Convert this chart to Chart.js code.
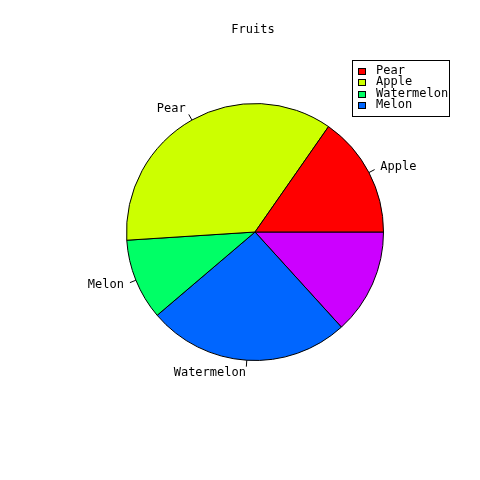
<!DOCTYPE html>
<html>
<head>
<meta charset="utf-8">
<script src="https://cdn.jsdelivr.net/npm/chart.js@4/dist/chart.umd.min.js"></script>
<style>
html,body{margin:0;padding:0;background:#fff;}
#wrap{width:480px;height:480px;}
</style>
</head>
<body>
<div id="wrap"><canvas id="c" width="480" height="480"></canvas></div>
<script>
// Slice values in R order (counter-clockwise from 3 o'clock)
const sliceValues = [15, 35, 10, 25, 13];
const sliceLabels = ["Apple", "Pear", "Melon", "Watermelon", ""];
const sliceColors = ["#FF0000", "#CCFF00", "#00FF66", "#0066FF", "#CC00FF"];
const legendLabels = ["Pear", "Apple", "Watermelon", "Melon"];
const legendColors = ["#FF0000", "#CCFF00", "#00FF66", "#0066FF"];
const chartTitle = "Fruits";

const FONT = '12px "DejaVu Sans Mono", "Liberation Mono", monospace';

// Chart.js draws clockwise; reverse so the visual order is counter-clockwise like R
const cjValues = sliceValues.slice().reverse();
const cjLabels = sliceLabels.slice().reverse();
const cjColors = sliceColors.slice().reverse();

const decor = {
  id: 'decor',
  afterDatasetsDraw(chart) {
    const ctx = chart.ctx;
    const meta = chart.getDatasetMeta(0);
    ctx.save();
    ctx.font = FONT;
    ctx.fillStyle = '#000';
    ctx.strokeStyle = '#000';
    ctx.lineWidth = 1;
    ctx.textBaseline = 'middle';
    meta.data.forEach((arc, i) => {
      const lab = cjLabels[i];
      if (!lab) return;
      const p = arc.getProps(['x', 'y', 'startAngle', 'endAngle', 'outerRadius'], true);
      const mid = (p.startAngle + p.endAngle) / 2;
      const c = Math.cos(mid), s = Math.sin(mid);
      const r = p.outerRadius;
      ctx.beginPath();
      ctx.moveTo(p.x + r * c, p.y + r * s);
      ctx.lineTo(p.x + 1.05 * r * c, p.y + 1.05 * r * s);
      ctx.stroke();
      ctx.textAlign = c > 0 ? 'left' : 'right';
      ctx.fillText(lab, p.x + 1.1 * r * c, p.y + 1.1 * r * s);
    });
    // Title
    ctx.textAlign = 'center';
    ctx.fillText(chartTitle, 253, 30);
    // Legend box
    ctx.fillStyle = '#fff';
    ctx.fillRect(352, 60, 98, 57);
    ctx.strokeRect(352.5, 60.5, 97, 56);
    ctx.textAlign = 'left';
    legendLabels.forEach((t, i) => {
      const y = 70.5 + i * 11.5;
      const yr = Math.round(y);
      ctx.fillStyle = legendColors[i];
      ctx.fillRect(358, yr - 3, 8, 7);
      ctx.strokeRect(358.5, yr - 2.5, 7, 6);
      ctx.fillStyle = '#000';
      ctx.fillText(t, 376, y);
    });
    ctx.restore();
  }
};

new Chart(document.getElementById('c'), {
  type: 'pie',
  data: {
    labels: cjLabels,
    datasets: [{
      data: cjValues,
      backgroundColor: cjColors,
      borderColor: '#000',
      borderWidth: 1,
      hoverOffset: 0
    }]
  },
  options: {
    responsive: false,
    animation: false,
    devicePixelRatio: 1,
    rotation: 90,
    layout: { padding: { left: 126, right: 96, top: 103, bottom: 119 } },
    plugins: {
      legend: { display: false },
      title: { display: false },
      tooltip: { enabled: false }
    },
    events: []
  },
  plugins: [decor]
});
</script>
</body>
</html>
